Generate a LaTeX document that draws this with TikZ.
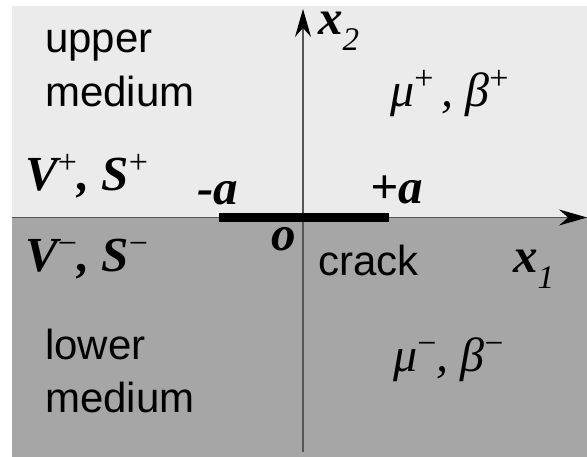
\documentclass[tikz,border=0pt]{standalone}
\usepackage{fontspec}
\setmainfont{Liberation Serif}
\newfontfamily\arialfont{Liberation Sans}
\usetikzlibrary{arrows.meta,positioning}

\definecolor{upperbg}{HTML}{EBEBEB}
\definecolor{lowerbg}{HTML}{A6A6A6}
\definecolor{axisgray}{HTML}{555555}

% raised / lowered indices for the labels
\newcommand{\hiidx}[1]{\raisebox{0.36em}{\fontsize{34}{34}\selectfont\upshape\mdseries #1}}
\newcommand{\loidx}[1]{\raisebox{-0.32em}{\fontsize{33}{33}\selectfont\itshape\mdseries #1}}

\begin{document}
\begin{tikzpicture}[x=1pt, y=-1pt,
    medtxt/.style={font=\arialfont\fontsize{42}{54}\selectfont, align=left, inner sep=0pt, anchor=base west},
    symb/.style={font=\fontsize{49}{49}\selectfont\bfseries\itshape, inner sep=0pt, anchor=base west},
    matpar/.style={font=\fontsize{48}{48}\selectfont\itshape, inner sep=0pt, anchor=base west},
    axis/.style={draw=axisgray, line width=1.2pt, -{Stealth[length=28pt, width=16pt, color=black]}},
    crackbar/.style={line width=9pt}
  ]
    \useasboundingbox (0,0) rectangle (587,457);
    \fill[upperbg] (12,6) rectangle (587,217.5);
    \fill[lowerbg] (12,217.5) rectangle (587,457);

    % axes
    \coordinate (o) at (303,217.5);
    \coordinate (x1start) at (12,217.5);
    \coordinate (x1end) at (587,217.5);
    \coordinate (x2start) at (303,452);
    \coordinate (x2end) at (303,9);
    \draw[axis] (x1start) -- (x1end);
    \draw[axis] (x2start) -- (x2end);

    % crack
    \coordinate (tipL) at (219,218);
    \coordinate (tipR) at (389,218);
    \draw[crackbar] (tipL) -- (tipR);

    \node[medtxt] (upper) at (45,107) {upper\\medium};
    \node[medtxt] (lower) at (45,413) {lower\\medium};
    \node[medtxt] (crack) at (318,276) {crack};

    \node[symb] (vsup) at (25,191) {V\hiidx{+}, S\hiidx{+}};
    \node[symb] (vslo) at (25,272) {V\hiidx{−}, S\hiidx{−}};
    \node[symb] (minusa) at (197,205) {-a};
    \node[symb] (plusa) at (370,204) {+a};
    \node[symb] (orig) at (271,251) {o};
    \node[symb] (xone) at (513,273) {x\loidx{1}};
    \node[symb, text height=22pt] (xtwo) at (318,35) {x\loidx{2}};

    \node[matpar] (mbup) at (390,107) {μ\hiidx{+}\,, β\hiidx{+}};
    \node[matpar] (mblo) at (393,372) {μ\hiidx{−}, β\hiidx{−}};
\end{tikzpicture}
\end{document}
